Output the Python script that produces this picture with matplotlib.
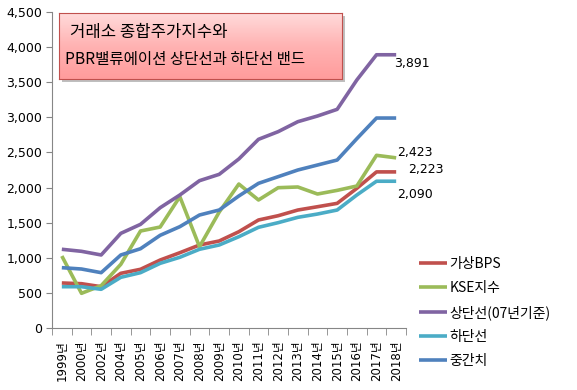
import numpy as np
from matplotlib import pyplot as plt
from matplotlib.ticker import FuncFormatter

plt.rcParams['font.family'] = ['DejaVu Sans', 'Noto Sans CJK KR']

years = ["1999", "2000", "2002", "2004", "2005", "2006", "2007", "2008", "2009",
         "2010", "2011", "2012", "2013", "2014", "2015", "2016", "2017", "2018"]

bps = [641, 631, 588, 779, 836, 968, 1072, 1182, 1239,
       1371, 1538, 1599, 1680, 1727, 1775, 1989, 2223, 2223]
kse = [1025, 494, 603, 907, 1381, 1438, 1870, 1158, 1650,
       2050, 1823, 1998, 2008, 1908, 1960, 2022, 2459, 2423]
upper = [1121, 1092, 1040, 1348, 1476, 1713, 1894, 2098, 2188,
         2407, 2687, 2796, 2938, 3019, 3114, 3532, 3891, 3891]
lower = [588, 588, 551, 722, 788, 921, 1007, 1121, 1182,
         1300, 1434, 1500, 1576, 1623, 1680, 1894, 2090, 2090]
middle = [859, 840, 788, 1040, 1129, 1320, 1443, 1609, 1680,
          1880, 2060, 2155, 2250, 2321, 2392, 2696, 2990, 2990]

series = [
    ("가상BPS", bps, "#C0504D"),
    ("KSE지수", kse, "#9BBB59"),
    ("상단선(07년기준)", upper, "#8064A2"),
    ("하단선", lower, "#4BACC6"),
    ("중간치", middle, "#4F81BD"),
]

fig = plt.figure(figsize=(5.77, 3.9), dpi=100)
ax = fig.add_axes([52 / 577, 1 - 328 / 390, 354 / 577, 316 / 390])

x = np.arange(len(years))
for name, vals, color in series:
    ax.plot(x, vals, color=color, lw=2.6, label=name, solid_capstyle='butt')

ax.set_xlim(-0.5, len(years) - 0.5)
ax.set_ylim(0, 4500)
ax.set_yticks(np.arange(0, 4501, 500))
ax.yaxis.set_major_formatter(FuncFormatter(lambda v, p: f"{int(v):,}"))
ax.tick_params(axis='y', direction='out', length=4, color='#868686',
               labelsize=9, pad=3)

ax.set_xticks(x)
ax.set_xticklabels([y + "년" for y in years], rotation=90, fontsize=8.5)
ax.set_xticks(np.arange(-0.5, len(years), 1), minor=True)
ax.tick_params(axis='x', which='major', length=0, pad=9)
ax.tick_params(axis='x', which='minor', direction='out', length=5, color='#868686')

for side in ['top', 'right']:
    ax.spines[side].set_visible(False)
for side in ['left', 'bottom']:
    ax.spines[side].set_color('#868686')

# end labels
last = len(years) - 1
ax.annotate(f"{upper[-1]:,}", (last, upper[-1]), xytext=(-2, -9),
            textcoords='offset pixels', fontsize=9, va='center', ha='left')
ax.annotate(f"{kse[-1]:,}", (last, kse[-1]), xytext=(1, 5),
            textcoords='offset pixels', fontsize=9, va='center', ha='left')
ax.annotate(f"{bps[-1]:,}", (last, bps[-1]), xytext=(12, 2),
            textcoords='offset pixels', fontsize=9, va='center', ha='left',
            annotation_clip=False)
ax.annotate(f"{lower[-1]:,}", (last, lower[-1]), xytext=(1, -13),
            textcoords='offset pixels', fontsize=9, va='center', ha='left')

fig.legend(loc='upper left', bbox_to_anchor=(412 / 577, 1 - 250 / 390),
           frameon=False, fontsize=10, handlelength=2.0, handletextpad=0.2,
           labelspacing=0.72, borderpad=0,
           prop={'family': ['Noto Sans CJK KR'], 'size': 10})

# title box with shadow and pink gradient
sh = fig.add_axes([62 / 577, 1 - 82 / 390, 283 / 577, 66 / 390])
sh.set_facecolor('#BFBFBF')
sh.set_xticks([])
sh.set_yticks([])
for s in sh.spines.values():
    s.set_visible(False)

tb = fig.add_axes([59 / 577, 1 - 79 / 390, 283 / 577, 66 / 390])
grad = np.linspace(0, 1, 100).reshape(-1, 1)
from matplotlib.colors import LinearSegmentedColormap
cmap = LinearSegmentedColormap.from_list('pink', ['#FFDCDC', '#FFB3B3', '#FF9C9C'])
tb.imshow(grad, aspect='auto', cmap=cmap, extent=(0, 1, 0, 1), origin='upper')
tb.set_xlim(0, 1)
tb.set_ylim(0, 1)
tb.set_xticks([])
tb.set_yticks([])
for s in tb.spines.values():
    s.set_color('#C0504D')
    s.set_linewidth(0.8)
tb.text(0.04, 0.7, "거래소 종합주가지수와", fontsize=12,
        family=['Noto Sans CJK KR'], va='center', ha='left')
tb.text(0.02, 0.3, "PBR밸류에이션 상단선과 하단선 밴드", fontsize=11.2,
        family=['Noto Sans CJK KR'], va='center', ha='left')

fig.savefig("out.png", dpi=100)
